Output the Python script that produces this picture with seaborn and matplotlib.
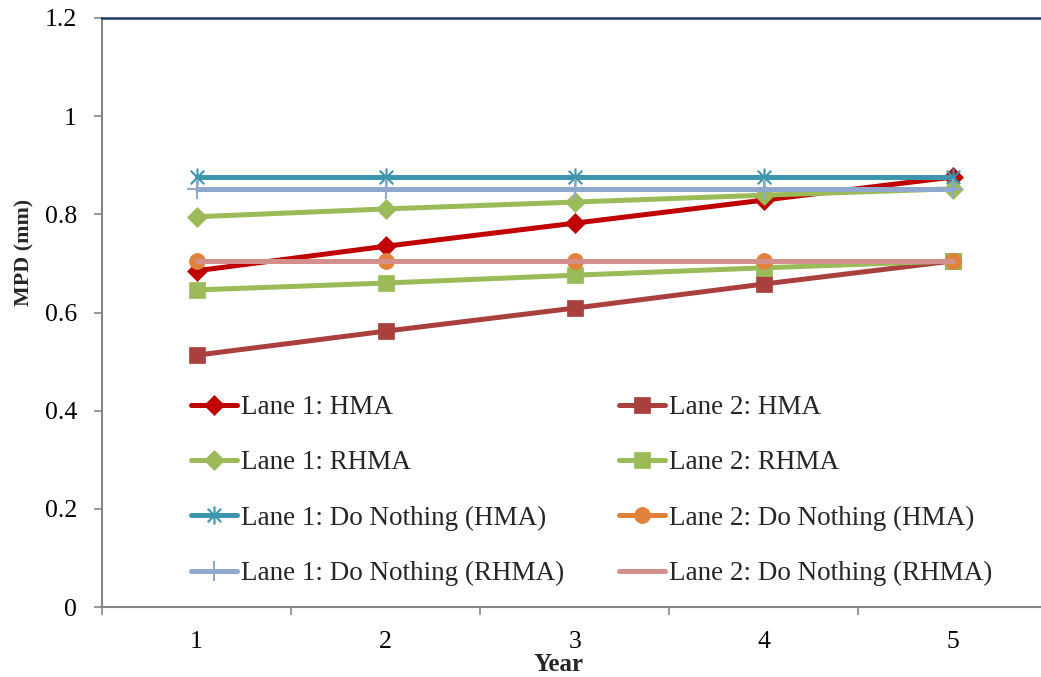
import matplotlib
matplotlib.use("Agg")
import matplotlib.pyplot as plt
from matplotlib.path import Path
import seaborn as sns
import pandas as pd

years = [1, 2, 3, 4, 5]
lane1_hma = [0.685, 0.735, 0.782, 0.829, 0.876]
lane2_hma = [0.513, 0.562, 0.609, 0.658, 0.705]
lane1_rhma = [0.795, 0.811, 0.825, 0.839, 0.852]
lane2_rhma = [0.646, 0.660, 0.676, 0.691, 0.705]
lane1_dn_hma = [0.876, 0.876, 0.876, 0.876, 0.876]
lane2_dn_hma = [0.705, 0.705, 0.705, 0.705, 0.705]
lane1_dn_rhma = [0.852, 0.852, 0.852, 0.852, 0.852]
lane2_dn_rhma = [0.705, 0.705, 0.705, 0.705, 0.705]

series_names = ["Lane 1: HMA", "Lane 2: HMA", "Lane 1: RHMA", "Lane 2: RHMA",
                "Lane 1: Do Nothing (HMA)", "Lane 2: Do Nothing (HMA)",
                "Lane 1: Do Nothing (RHMA)", "Lane 2: Do Nothing (RHMA)"]
series_values = [lane1_hma, lane2_hma, lane1_rhma, lane2_rhma,
                 lane1_dn_hma, lane2_dn_hma, lane1_dn_rhma, lane2_dn_rhma]
colors = ["#C00000", "#A9403E", "#9BBB59", "#9BBB59",
          "#3E96AE", "#E0823A", "#8FA8CE", "#D48F8D"]
y_ticks = [0, 0.2, 0.4, 0.6, 0.8, 1.0, 1.2]
y_tick_labels = ["0", "0.2", "0.4", "0.6", "0.8", "1", "1.2"]

asterisk = Path([(0, -1), (0, 1), (-0.75, -0.75), (0.75, 0.75), (-0.75, 0.75), (0.75, -0.75)],
                [Path.MOVETO, Path.LINETO, Path.MOVETO, Path.LINETO, Path.MOVETO, Path.LINETO])
markers = ["D", "s", "D", "s", asterisk, "o", "+", None]
msizes = [10, 11.5, 10, 11.5, 13, 11.5, 15, 0]
thin = [False, False, False, False, True, False, True, False]

sns.set_theme(style="white")
plt.rcParams["font.family"] = ["Liberation Serif", "DejaVu Serif"]

fig = plt.figure(figsize=(10.41, 6.77), dpi=100)
W, H = 1041, 677
ax = fig.add_axes([102 / W, 70 / H, 945.5 / W, 589 / H])

for name, vals, c, m, ms, t in zip(series_names, series_values, colors, markers, msizes, thin):
    df = pd.DataFrame({"Year": years, "MPD": vals})
    kw = dict(color=c, linewidth=3.6, label=name)
    if m is not None:
        kw.update(marker=m, markersize=ms, markeredgecolor=c, markerfacecolor=c,
                  markeredgewidth=1.5 if t else 0.5)
    sns.lineplot(data=df, x="Year", y="MPD", ax=ax, **kw)

ax.set_xlim(0.5, 5.5)
ax.set_ylim(0, 1.2)
ax.set_yticks(y_ticks)
ax.set_yticklabels(y_tick_labels)
ax.set_xticks([0.5, 1.5, 2.5, 3.5, 4.5, 5.5])
ax.set_xticklabels([])
ax.set_xticks(years, minor=True)
ax.set_xticklabels([str(y) for y in years], minor=True)
ax.tick_params(axis="x", which="major", length=6, width=1.2, color="#868686", direction="out", bottom=True)
ax.tick_params(axis="x", which="minor", length=0, pad=17, labelsize=18.5, labelcolor="black", bottom=True)
ax.tick_params(axis="y", which="major", length=6, width=1.2, color="#868686", direction="out",
               pad=12, labelsize=18.5, labelcolor="black", left=True)

for s in ["left", "bottom"]:
    ax.spines[s].set_color("#868686")
    ax.spines[s].set_linewidth(1.5)
ax.spines["top"].set_color("#1F3864")
ax.spines["top"].set_linewidth(1.8)
ax.spines["right"].set_visible(False)

ax.set_xlabel("Year", fontsize=18, fontweight="bold", labelpad=0)
ax.xaxis.set_label_coords((558 - 102) / 945.5, -(653 - 607) / 589, transform=ax.transAxes)
ax.set_ylabel("MPD (mm)", fontsize=15.8, fontweight="bold")
ax.yaxis.set_label_coords(-(102 - 34) / 945.5, (607 - 252) / 589)

handles, labels = ax.get_legend_handles_labels()
order = [0, 2, 4, 6, 1, 3, 5, 7]
ax.legend([handles[i] for i in order], [labels[i] for i in order], ncol=2,
          loc="upper left", bbox_to_anchor=(191 / W, 1 - 395 / H), bbox_transform=fig.transFigure,
          frameon=False, fontsize=19.5, handlelength=1.7, handletextpad=0.15,
          columnspacing=2.0, labelspacing=1.12, borderpad=0, borderaxespad=0)

fig.savefig("out.png", dpi=100)
